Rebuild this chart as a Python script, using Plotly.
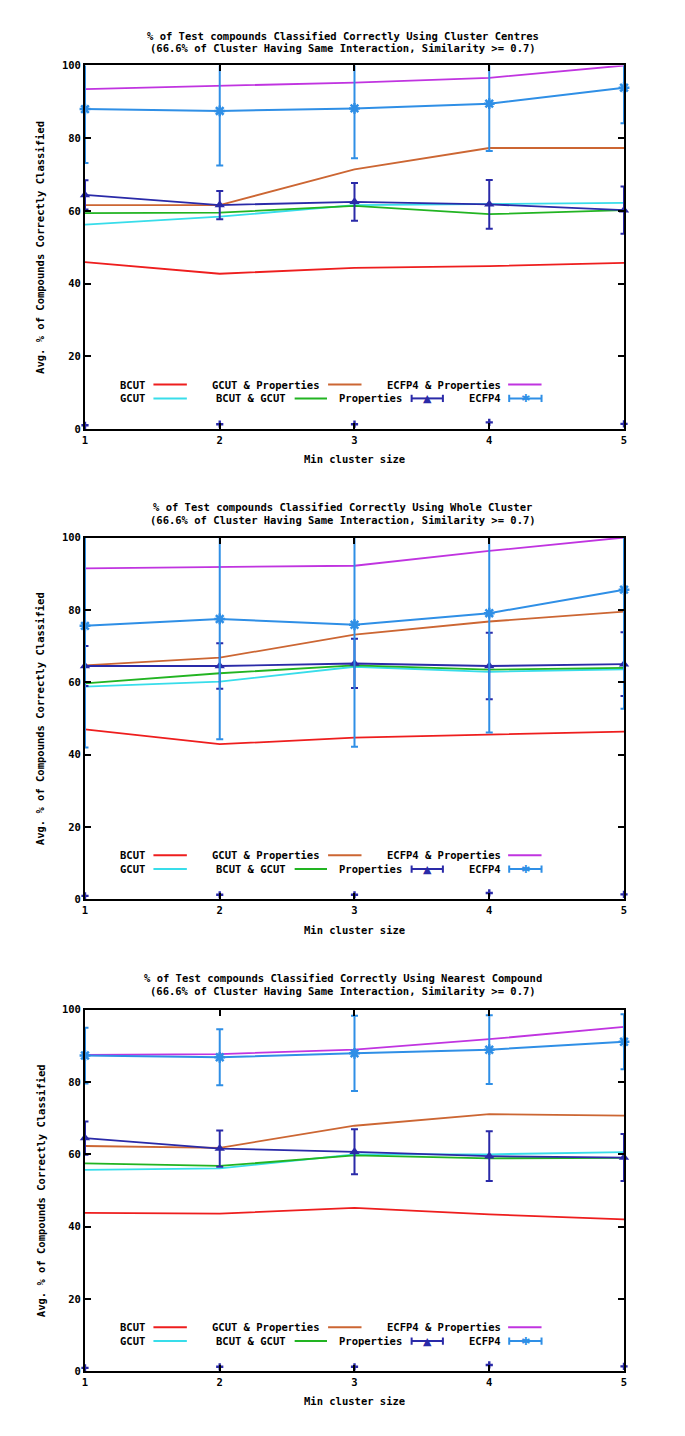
import plotly.graph_objects as go

W, H = 685, 1436

cluster_sizes = [1, 2, 3, 4, 5]
x_ticks = [1, 2, 3, 4, 5]
y_ticks = [0, 20, 40, 60, 80, 100]

titles = [
    "% of Test compounds Classified Correctly Using Cluster Centres",
    "% of Test compounds Classified Correctly Using Whole Cluster",
    "% of Test compounds Classified Correctly Using Nearest Compound",
]
subtitle = "(66.6% of Cluster Having Same Interaction, Similarity >= 0.7)"
x_title = "Min cluster size"
y_title = "Avg. % of Compounds Correctly Classified"

# Panel 1: Cluster Centres
bcut_1 = [45.9, 42.7, 44.3, 44.8, 45.7]
gcut_1 = [56.2, 58.4, 61.6, 62.0, 62.2]
gcut_prop_1 = [61.6, 61.6, 71.4, 77.3, 77.3]
bcut_gcut_1 = [59.4, 59.5, 61.4, 59.1, 60.2]
prop_1 = [64.4, 61.6, 62.5, 61.8, 60.2]
prop_err_1 = [4.0, 3.9, 5.2, 6.7, 6.5]
ecfp4_1 = [88.0, 87.5, 88.2, 89.5, 93.9]
ecfp4_err_1 = [14.8, 15.0, 13.7, 13.0, 9.8]
ecfp4_prop_1 = [93.5, 94.4, 95.3, 96.6, 100.0]
low_1 = [1.0, 1.3, 1.3, 1.8, 1.4]

# Panel 2: Whole Cluster
bcut_2 = [47.0, 42.9, 44.7, 45.5, 46.4]
gcut_2 = [58.8, 60.2, 64.3, 62.9, 63.6]
gcut_prop_2 = [64.7, 66.8, 73.2, 76.8, 79.5]
bcut_gcut_2 = [59.7, 62.5, 64.7, 63.5, 64.0]
prop_2 = [64.5, 64.5, 65.2, 64.5, 65.0]
prop_err_2 = [5.5, 6.3, 6.8, 9.2, 8.8]
ecfp4_2 = [75.6, 77.5, 75.9, 79.1, 85.6]
ecfp4_err_2 = [33.6, 33.2, 33.7, 33.0, 32.9]
ecfp4_prop_2 = [91.5, 91.8, 92.2, 96.3, 100.0]
low_2 = [1.0, 1.3, 1.3, 1.8, 1.4]

# Panel 3: Nearest Compound
bcut_3 = [43.8, 43.6, 45.2, 43.4, 42.0]
gcut_3 = [55.7, 56.1, 60.0, 60.0, 60.6]
gcut_prop_3 = [62.3, 61.8, 67.9, 71.1, 70.7]
bcut_gcut_3 = [57.5, 56.8, 59.7, 58.9, 59.0]
prop_3 = [64.5, 61.6, 60.7, 59.5, 59.1]
prop_err_3 = [4.6, 5.0, 6.2, 6.9, 6.5]
ecfp4_3 = [87.3, 86.8, 87.9, 88.9, 91.1]
ecfp4_err_3 = [7.7, 7.75, 10.4, 9.5, 7.6]
ecfp4_prop_3 = [87.5, 87.7, 88.9, 91.8, 95.2]
low_3 = [1.0, 1.3, 1.3, 1.8, 1.4]

panels = [
    dict(bcut=bcut_1, gcut=gcut_1, gcut_prop=gcut_prop_1, bcut_gcut=bcut_gcut_1,
         prop=prop_1, prop_err=prop_err_1, ecfp4=ecfp4_1, ecfp4_err=ecfp4_err_1,
         ecfp4_prop=ecfp4_prop_1, low=low_1),
    dict(bcut=bcut_2, gcut=gcut_2, gcut_prop=gcut_prop_2, bcut_gcut=bcut_gcut_2,
         prop=prop_2, prop_err=prop_err_2, ecfp4=ecfp4_2, ecfp4_err=ecfp4_err_2,
         ecfp4_prop=ecfp4_prop_2, low=low_2),
    dict(bcut=bcut_3, gcut=gcut_3, gcut_prop=gcut_prop_3, bcut_gcut=bcut_gcut_3,
         prop=prop_3, prop_err=prop_err_3, ecfp4=ecfp4_3, ecfp4_err=ecfp4_err_3,
         ecfp4_prop=ecfp4_prop_3, low=low_3),
]

C_BCUT = "#EE1E1E"
C_GCUT = "#38DDEA"
C_GCUTP = "#CC6633"
C_BG = "#22B422"
C_PROP = "#2A2AA8"
C_ECFP = "#2F8FE6"
C_ECFPP = "#C034E0"

FONT = "DejaVu Sans Mono, DejaVu Sans, monospace"

panel_px = [(60, 426.5), (536, 901), (1012, 1377)]
px_left, px_right = 82.7, 626.5
title_px = [(30, 42), (505, 518), (980, 993)]
xtitle_px = [457, 932, 1407]

fig = go.Figure()
layout = dict(
    width=W, height=H, margin=dict(l=0, r=0, t=0, b=0),
    paper_bgcolor="white", plot_bgcolor="white", showlegend=False,
)
annotations = []
shapes = []

for i, p in enumerate(panels):
    n = "" if i == 0 else str(i + 1)
    xa, ya = "x" + n, "y" + n
    top, bot = panel_px[i]
    layout["xaxis" + n] = dict(
        domain=[px_left / W, px_right / W], anchor=ya, range=[1, 5],
        tickvals=x_ticks, ticks="inside", ticklen=6, tickwidth=1.5, tickcolor="black",
        showline=True, linewidth=2, linecolor="black", mirror="ticks",
        showgrid=False, zeroline=False,
        tickfont=dict(family=FONT, size=10.5, color="black", weight="bold"),
    )
    layout["yaxis" + n] = dict(
        domain=[1 - bot / H, 1 - top / H], anchor=xa, range=[0, 100],
        tickvals=y_ticks, ticks="inside", ticklen=6, tickwidth=1.5, tickcolor="black",
        showline=True, linewidth=2, linecolor="black", mirror="ticks",
        showgrid=False, zeroline=False,
        tickfont=dict(family=FONT, size=10.5, color="black", weight="bold"),
    )

    def line(y, color, width=1.8, name=""):
        fig.add_trace(go.Scatter(x=cluster_sizes, y=y, mode="lines", name=name,
                                 line=dict(color=color, width=width),
                                 xaxis=xa, yaxis=ya, hoverinfo="skip"))

    line(p["bcut"], C_BCUT, name="BCUT")
    line(p["gcut"], C_GCUT, name="GCUT")
    line(p["gcut_prop"], C_GCUTP, name="GCUT & Properties")
    line(p["bcut_gcut"], C_BG, name="BCUT & GCUT")
    fig.add_trace(go.Scatter(
        x=cluster_sizes, y=p["prop"], mode="lines", name="Properties",
        line=dict(color=C_PROP, width=1.8),
        error_y=dict(type="data", array=p["prop_err"], visible=True,
                     color=C_PROP, thickness=2, width=3.5),
        xaxis=xa, yaxis=ya))
    fig.add_trace(go.Scatter(
        x=cluster_sizes, y=p["prop"], mode="markers", cliponaxis=False,
        marker=dict(symbol="triangle-up", size=9, color=C_PROP),
        xaxis=xa, yaxis=ya))
    line(p["ecfp4_prop"], C_ECFPP, name="ECFP4 & Properties")
    fig.add_trace(go.Scatter(
        x=cluster_sizes, y=p["ecfp4"], mode="lines", name="ECFP4",
        line=dict(color=C_ECFP, width=2),
        error_y=dict(type="data", array=p["ecfp4_err"], visible=True,
                     color=C_ECFP, thickness=2, width=3.5),
        xaxis=xa, yaxis=ya))
    fig.add_trace(go.Scatter(
        x=cluster_sizes, y=p["ecfp4"], mode="markers", cliponaxis=False,
        marker=dict(symbol="asterisk-open", size=9, color=C_ECFP,
                    line=dict(color=C_ECFP, width=2.5)),
        xaxis=xa, yaxis=ya))
    fig.add_trace(go.Scatter(
        x=cluster_sizes, y=p["low"], mode="markers", cliponaxis=False,
        marker=dict(symbol="cross", size=6, color=C_PROP),
        xaxis=xa, yaxis=ya))

    t1, t2 = title_px[i]
    tfont = dict(family=FONT, size=10.5, color="black")
    annotations.append(dict(text="<b>" + titles[i] + "</b>", xref="paper", yref="paper",
                            x=0.5, y=1 - t1 / H, showarrow=False, font=tfont,
                            xanchor="center", yanchor="middle"))
    annotations.append(dict(text="<b>" + subtitle + "</b>", xref="paper", yref="paper",
                            x=0.5, y=1 - t2 / H, showarrow=False, font=tfont,
                            xanchor="center", yanchor="middle"))
    annotations.append(dict(text="<b>" + x_title + "</b>", xref="paper", yref="paper",
                            x=(px_left + px_right) / 2 / W, y=1 - xtitle_px[i] / H,
                            showarrow=False, font=tfont,
                            xanchor="center", yanchor="middle"))
    annotations.append(dict(text="<b>" + y_title + "</b>", xref="paper", yref="paper",
                            x=38 / W, y=1 - (top + bot) / 2 / H, textangle=-90,
                            showarrow=False, font=tfont,
                            xanchor="center", yanchor="middle"))

    xd = xa + " domain"
    row1, row2 = 12.2, 8.4
    key = [
        ("BCUT", 0.115, row1, (0.127, 0.189), C_BCUT, None),
        ("GCUT & Properties", 0.438, row1, (0.451, 0.513), C_GCUTP, None),
        ("ECFP4 & Properties", 0.775, row1, (0.785, 0.847), C_ECFPP, None),
        ("GCUT", 0.115, row2, (0.127, 0.189), C_GCUT, None),
        ("BCUT & GCUT", 0.376, row2, (0.389, 0.449), C_BG, None),
        ("Properties", 0.591, row2, (0.606, 0.664), C_PROP, "▲"),
        ("ECFP4", 0.776, row2, (0.787, 0.847), C_ECFP, "✱"),
    ]
    for label, xr, yy, (s0, s1), col, sym in key:
        annotations.append(dict(text="<b>" + label + "</b>", xref=xd, yref=ya,
                                x=xr, y=yy, showarrow=False, xanchor="right",
                                yanchor="middle", font=tfont))
        shapes.append(dict(type="line", xref=xd, yref=ya, x0=s0, x1=s1, y0=yy, y1=yy,
                           line=dict(color=col, width=2)))
        if sym is not None:
            for sx in (s0, s1):
                shapes.append(dict(type="line", xref=xd, yref=ya, x0=sx, x1=sx,
                                   y0=yy - 1.0, y1=yy + 1.0, line=dict(color=col, width=2)))
            annotations.append(dict(text=sym, xref=xd, yref=ya, x=(s0 + s1) / 2, y=yy,
                                    showarrow=False, xanchor="center", yanchor="middle",
                                    font=dict(family="DejaVu Sans", size=11, color=col)))

layout["annotations"] = annotations
layout["shapes"] = shapes
fig.update_layout(**layout)
fig.write_html("out.html", config={"displayModeBar": False},
               post_script="document.body.style.margin='0';document.body.style.overflow='hidden';")
